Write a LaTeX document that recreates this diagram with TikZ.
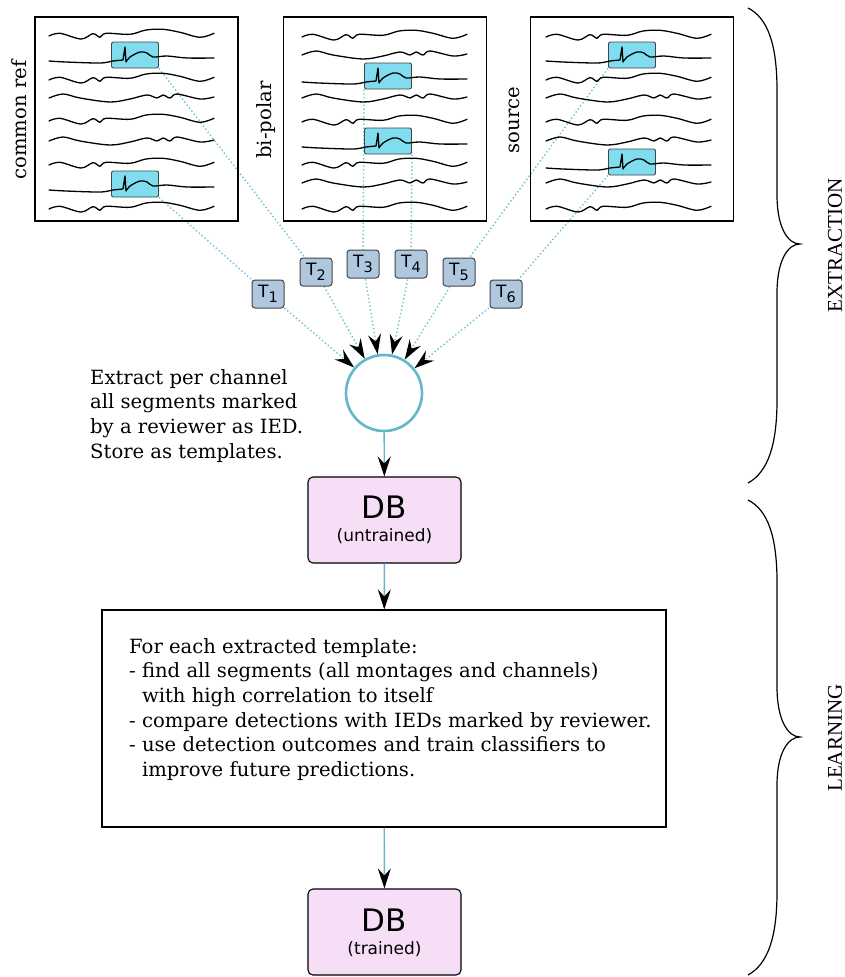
\documentclass[tikz,border=0pt]{standalone}
\usepackage{fontspec}
\setmainfont{DejaVu Serif}
\newfontfamily\sansf{DejaVu Sans}
\newfontfamily\capsf{Liberation Serif}
\usetikzlibrary{arrows.meta}
\definecolor{iedfill}{HTML}{80DDF0}
\definecolor{tfill}{HTML}{B0C8DF}
\definecolor{dbfill}{HTML}{F6DEF7}
\definecolor{lineteal}{HTML}{62B8C9}
\definecolor{dotc}{HTML}{6EC3D2}
\definecolor{edgegray}{HTML}{444444}
\pgfdeclarelayer{bg}
\pgfsetlayers{bg,main}
\newcommand{\wA}[2]{\draw[trace,shift={(#1,#2)}] plot[smooth,tension=0.55] coordinates {(0,2) (11,-0.7) (32,5) (44,-0.3) (51,3.3) (57,-0.7) (81,0.3) (97,-4) (114,-4.7) (131,-1.7) (151,3.3) (165,-0.7)};}
\newcommand{\wC}[2]{\draw[trace,shift={(#1,#2)}] plot[smooth,tension=0.55] coordinates {(0,1) (14,-3) (31,1) (61,5) (81,2) (98,-2) (108,1) (114,-2) (121,1) (128,-3) (151,2) (165,0)};}
\newcommand{\wB}[2]{\draw[trace,shift={(#1,#2)}] plot[smooth,tension=0.55] coordinates {(0,0) (17,1) (51,2) (64,0) (74,-1)} -- (76,-14) -- (77,1) -- plot[smooth,tension=0.55] coordinates {(77,1) (81,-4) (91,-9) (98,-8) (104,-4) (118,-5) (138,-3) (165,-3)};}
\newcommand{\iedbox}[3]{\node[ied] (#1) at ({#2+86},{#3-6}) {};}
\newcommand{\tsub}[1]{T\raisebox{-4.5pt}{\fontsize{14.5}{14.5}\selectfont #1}}
\begin{document}
\begin{tikzpicture}[x=1pt,y=-1pt,
  trace/.style={line width=1.3pt,black,line join=round,line cap=round},
  ied/.style={draw=edgegray,line width=0.9pt,fill=iedfill,rounded corners=2pt,minimum width=47pt,minimum height=26pt,inner sep=0pt},
  panel/.style={draw=black,line width=1.1pt,minimum width=203pt,minimum height=204pt,inner sep=0pt},
  tbox/.style={draw=edgegray,line width=1pt,fill=tfill,rounded corners=3pt,minimum width=32pt,minimum height=28pt,inner sep=0pt,font=\sansf\fontsize{17}{17}\selectfont},
  dotline/.style={draw=dotc,line width=1.4pt,dash pattern=on 1.4pt off 2.4pt},
  tip/.style={-{Stealth[length=20pt,width=13pt,inset=7pt,color=black]}},
  conn/.style={draw=lineteal,line width=1.4pt,tip},
  db/.style={draw=black,line width=1.1pt,fill=dbfill,rounded corners=5pt,minimum width=153pt,minimum height=86pt,inner sep=0pt},
  dbt/.style={font=\sansf\fontsize{31}{31}\selectfont,inner sep=0pt,anchor=base},
  dbs/.style={font=\sansf\fontsize{17}{17}\selectfont,inner sep=0pt,anchor=base},
  txt/.style={font=\fontsize{19.6}{24.7}\selectfont,inner sep=0pt,align=left},
  brace/.style={draw=black,line width=1.2pt},
  side/.style={font=\capsf\fontsize{21}{21}\selectfont,rotate=90,inner sep=0pt}]
\useasboundingbox (0,0) rectangle (845,977);
\begin{pgfonlayer}{bg}
\fill[white] (0,0) rectangle (845,977);
\end{pgfonlayer}
% panels
\node[panel] (P1) at (136.5,119) {};
\node[panel] (P2) at (385,119) {};
\node[panel] (P3) at (632,119) {};
\node[txt,rotate=90] (L1) at (19,120) {common ref};
\node[txt,rotate=90] (L2) at (266,120) {bi-polar};
\node[txt,rotate=90] (L3) at (514,120) {source};
% IED boxes
\iedbox{p1a}{49}{61}
\iedbox{p1b}{49}{190}
\iedbox{p2a}{302}{82}
\iedbox{p2b}{302}{147}
\iedbox{p3a}{546}{61}
\iedbox{p3b}{546}{168}
% traces panel 1
\wA{49}{34} \wB{49}{61} \wA{49}{78} \wC{49}{97} \wA{49}{119} \wC{49}{140} \wA{49}{163} \wB{49}{190} \wA{49}{207}
% traces panel 2
\wA{302}{35} \wC{302}{54} \wB{302}{82} \wC{302}{97} \wA{302}{120} \wB{302}{147} \wA{302}{163} \wC{302}{182} \wA{302}{207}
% traces panel 3
\wA{546}{35} \wB{546}{61} \wA{546}{78} \wC{546}{97} \wA{546}{120} \wC{546}{140} \wB{546}{168} \wC{546}{182} \wA{546}{207}
% templates
\node[tbox] (T1) at (268,294) {\tsub{1}};
\node[tbox] (T2) at (316,272) {\tsub{2}};
\node[tbox] (T3) at (363,264) {\tsub{3}};
\node[tbox] (T4) at (411,264) {\tsub{4}};
\node[tbox] (T5) at (459,272) {\tsub{5}};
\node[tbox] (T6) at (506,294) {\tsub{6}};
% collector circle
\node[circle,draw=lineteal,line width=2.6pt,fill=white,minimum size=76pt,inner sep=0pt] (circ) at (384,393) {};
\begin{pgfonlayer}{bg}
\draw[dotline,tip] (p1a.south east) -- (T2.center) -- (circ);
\draw[dotline,tip] (p1b.south east) -- (T1.center) -- (circ);
\draw[dotline,tip] (p2a.south west) -- (T3.center) -- (circ);
\draw[dotline,tip] (p2b.south east) -- (T4.center) -- (circ);
\draw[dotline,tip] (p3a.south west) -- (T5.center) -- (circ);
\draw[dotline,tip] (p3b.south west) -- (T6.center) -- (circ);
\end{pgfonlayer}
\node[txt,anchor=north west] (ext) at (90,369) {Extract per channel\\all segments marked\\by a reviewer as IED.\\Store as templates.};
% DB untrained
\node[db] (db1) at (384.5,520) {};
\node[dbt] (db1t) at (384.5,518) {DB};
\node[dbs] (db1s) at (384.5,541) {(untrained)};
% learning box
\node[draw=black,line width=1.1pt,minimum width=564pt,minimum height=217pt,inner sep=0pt] (big) at (384,718.5) {};
\node[txt,anchor=north west] (learn) at (129,638) {For each extracted template:\\- find all segments (all montages and channels)\\\hphantom{- }with high correlation to itself\\- compare detections with IEDs marked by reviewer.\\- use detection outcomes and train classifiers to\\\hphantom{- }improve future predictions.};
% DB trained
\node[db] (db2) at (384.5,932) {};
\node[dbt] (db2t) at (384.5,931) {DB};
\node[dbs] (db2s) at (384.5,954) {(trained)};
% connectors
\draw[conn] (circ) -- (db1);
\draw[conn] (db1) -- (big);
\draw[conn] (big) -- (db2);
% braces
\draw[brace] (748,8) .. controls (768,18) and (777,45) .. (777,90) -- (777,195) .. controls (777,228) and (788,244) .. (800,244) .. controls (788,244) and (777,260) .. (777,293) -- (777,400) .. controls (777,445) and (768,472) .. (748,483);
\draw[brace] (748,500) .. controls (768,510) and (777,537) .. (777,582) -- (777,687) .. controls (777,720) and (788,737) .. (800,737) .. controls (788,737) and (777,753) .. (777,785) -- (777,892) .. controls (777,937) and (768,964) .. (748,975);
\node[side] (ex) at (835,245) {EXTRACTION};
\node[side] (le) at (835,738) {LEARNING};
\end{tikzpicture}
\end{document}
